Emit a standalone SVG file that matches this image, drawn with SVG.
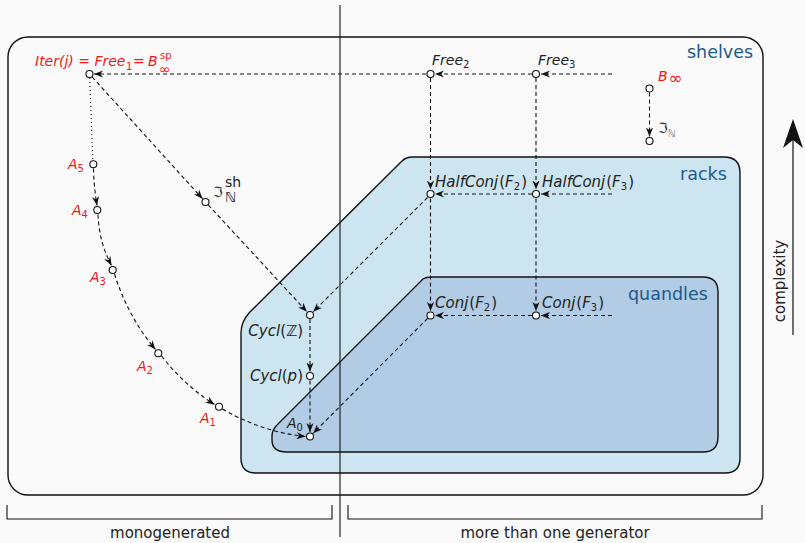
<svg xmlns="http://www.w3.org/2000/svg" width="805" height="543" viewBox="0 0 805 543">
<defs>
<style>
.m{font-family:"DejaVu Sans","Liberation Sans",sans-serif;font-style:italic;font-size:14px;fill:#222}
.m15{font-size:15px}
.u{font-style:normal}
.sub{font-style:normal;font-size:10px}
.red{fill:#f01818}
.gray{fill:#444}
.lbl{font-family:"DejaVu Sans","Liberation Sans",sans-serif;font-size:17.5px;fill:#1c5a8c}
.txt{font-family:"DejaVu Sans","Liberation Sans",sans-serif;font-size:15px;fill:#222}
.node{fill:#fff;stroke:#111;stroke-width:1.1}
.c{fill:none;stroke:#111;stroke-width:1.1;stroke-dasharray:4,3;marker-end:url(#ah)}
.dot{fill:none;stroke:#111;stroke-width:1.1;stroke-dasharray:1,3}
.box{stroke:#111;stroke-width:1.4}
</style>
<marker id="ah" viewBox="0 0 10 8" refX="10" refY="4" markerWidth="9" markerHeight="7.2" orient="auto" markerUnits="userSpaceOnUse">
<path d="M0,0 L10,4 L0,8 L3,4 Z" fill="#111"/>
</marker>
</defs>
<rect x="0" y="0" width="805" height="543" fill="#fafafa"/>

<g id="regions">
<rect id="shelves" class="box" x="8" y="37" width="755" height="458" rx="20" ry="20" fill="#fafafa"/>
<path id="racks" class="box" fill="#cde5f1" d="M413,157 L724,157 Q740,157 740,173 L740,458 Q740,473 725,473 L256,473 Q241,473 241,458 L241,333 Q241,322 249,313 L402,161 Q406,157 413,157 Z"/>
<path id="quandles" class="box" fill="#b1cce4" d="M433,277 L703,277 Q718,277 718,292 L718,437 Q718,452 703,452 L287,452 Q272,452 272,440 L272,436 Q272,430 277,425 L423,279 Q426,277 433,277 Z"/>
<text class="lbl" x="687" y="58">shelves</text>
<text class="lbl" x="680" y="180">racks</text>
<text class="lbl" x="628" y="300">quandles</text>
</g>

<line x1="340" y1="5" x2="340" y2="537" stroke="#111" stroke-width="1.1"/>

<g id="connectors">
<path class="c" d="M612,74 L541,74"/>
<path class="c" d="M532,74 L435,74"/>
<path class="c" d="M426,74 L94,74"/>
<path class="c" d="M430.5,78 L430.5,189.5"/>
<path class="c" d="M536,78 L536,189.5"/>
<path class="c" d="M612,194 L541,194"/>
<path class="c" d="M532,194 L435,194"/>
<path class="c" d="M430.5,198.5 L430.5,311"/>
<path class="c" d="M536,198.5 L536,311"/>
<path class="c" d="M612,315.5 L541,315.5"/>
<path class="c" d="M532,315.5 L435,315.5"/>
<path class="c" d="M427.5,197.5 L313.2,311.8"/>
<path class="c" d="M427.5,318.5 L313.2,433.3"/>
<path class="c" d="M310,319 L310,371.5"/>
<path class="c" d="M310,380.5 L310,432"/>
<path class="c" d="M92.2,77 L202.5,198.7"/>
<path class="c" d="M208.2,204.9 L306.9,311.7"/>
<path class="c" d="M649.5,92.5 L649.5,136.5"/>
<path class="dot" d="M89.7,78 L92.8,160"/>
<path class="c" d="M93.5,168.5 Q94,188 97,205.5"/>
<path class="c" d="M98,214.5 Q99,242 111.5,265.5"/>
<path class="c" d="M114.5,274 Q128,317 155.5,349.5"/>
<path class="c" d="M161.5,356 Q184,385 214.5,404.5"/>
<path class="c" d="M222.5,409 Q262,432 305.5,436.5"/>
</g>

<g id="n-iter">
<circle class="node" cx="89.5" cy="74" r="3.5"/>
<text class="m red" x="35" y="66">Iter(j) = Free</text>
<text class="m red sub" x="126" y="70">1</text>
<text class="m red u" x="133" y="66">=</text>
<text class="m red" x="148" y="66">B</text>
<text class="m red sub" x="160" y="58.5" font-size="11">sp</text>
<text class="m red u" x="159" y="74" font-size="16">∞</text>
</g>
<g id="n-free2">
<circle class="node" cx="430.5" cy="74" r="3.5"/>
<text class="m" x="432" y="65">Free<tspan class="sub" dy="3">2</tspan></text>
</g>
<g id="n-free3">
<circle class="node" cx="536" cy="74" r="3.5"/>
<text class="m" x="538" y="65">Free<tspan class="sub" dy="3">3</tspan></text>
</g>
<g id="n-binf">
<circle class="node" cx="649.5" cy="88.5" r="3.5"/>
<text class="m red" x="658" y="81" font-size="15">B<tspan class="u" font-size="17" dx="1" dy="3">∞</tspan></text>
</g>
<g id="n-IN">
<circle class="node" cx="649.5" cy="141" r="3.5"/>
<text class="m u gray" x="658" y="133" font-size="16">ℑ<tspan font-size="10" fill="#777" dy="4">ℕ</tspan></text>
</g>
<g id="n-INsh">
<circle class="node" cx="205.5" cy="202" r="3.5"/>
<text class="m u gray" x="213" y="197" font-size="16">ℑ</text>
<text class="m u" x="225" y="187" font-size="10.5" fill="#333">sh</text>
<text class="m u" x="225" y="201.5" font-size="9.5" fill="#777">ℕ</text>
</g>
<g id="n-A5">
<circle class="node" cx="93.3" cy="164.3" r="3.5"/>
<text class="m red" x="68" y="169">A<tspan class="sub" dy="3">5</tspan></text>
</g>
<g id="n-A4">
<circle class="node" cx="97.3" cy="210" r="3.5"/>
<text class="m red" x="72" y="215">A<tspan class="sub" dy="3">4</tspan></text>
</g>
<g id="n-A3">
<circle class="node" cx="112.7" cy="270" r="3.5"/>
<text class="m red" x="90" y="282">A<tspan class="sub" dy="3">3</tspan></text>
</g>
<g id="n-A2">
<circle class="node" cx="158.3" cy="353.3" r="3.5"/>
<text class="m red" x="137" y="371">A<tspan class="sub" dy="3">2</tspan></text>
</g>
<g id="n-A1">
<circle class="node" cx="219" cy="406.7" r="3.5"/>
<text class="m red" x="200" y="423">A<tspan class="sub" dy="3">1</tspan></text>
</g>
<g id="n-A0">
<circle class="node" cx="310" cy="436.5" r="3.5"/>
<text class="m" x="287" y="428">A<tspan class="sub" dy="3">0</tspan></text>
</g>
<g id="n-cyclZ">
<circle class="node" cx="310" cy="315" r="3.5"/>
<text class="m m15" x="303" y="336" text-anchor="end">Cycl<tspan class="u">(ℤ)</tspan></text>
</g>
<g id="n-cyclp">
<circle class="node" cx="310" cy="376" r="3.5"/>
<text class="m m15" x="303" y="381" text-anchor="end">Cycl<tspan class="u">(</tspan>p<tspan class="u">)</tspan></text>
</g>
<g id="n-hc2">
<circle class="node" cx="430.5" cy="194" r="3.5"/>
<text class="m m15" x="435" y="187">HalfConj<tspan class="u" dx="1">(</tspan>F<tspan class="sub" dy="3">2</tspan><tspan class="u" dx="1" dy="-3">)</tspan></text>
</g>
<g id="n-hc3">
<circle class="node" cx="536" cy="194" r="3.5"/>
<text class="m m15" x="542" y="187">HalfConj<tspan class="u" dx="1">(</tspan>F<tspan class="sub" dy="3">3</tspan><tspan class="u" dx="1" dy="-3">)</tspan></text>
</g>
<g id="n-c2">
<circle class="node" cx="430.5" cy="315.5" r="3.5"/>
<text class="m m15" x="435" y="308">Conj<tspan class="u" dx="1">(</tspan>F<tspan class="sub" dy="3">2</tspan><tspan class="u" dx="1" dy="-3">)</tspan></text>
</g>
<g id="n-c3">
<circle class="node" cx="536" cy="315.5" r="3.5"/>
<text class="m m15" x="542" y="308">Conj<tspan class="u" dx="1">(</tspan>F<tspan class="sub" dy="3">3</tspan><tspan class="u" dx="1" dy="-3">)</tspan></text>
</g>

<g id="brackets" fill="none" stroke="#111" stroke-width="1.1">
<path d="M7,505 L7,519 L332,519 L332,505"/>
<path d="M348,505 L348,519 L762,519 L762,505"/>
</g>
<text class="txt" x="170" y="538" text-anchor="middle">monogenerated</text>
<text class="txt" x="555" y="538" text-anchor="middle">more than one generator</text>

<g id="complexity">
<line x1="793" y1="335" x2="793" y2="140" stroke="#111" stroke-width="1.2"/>
<path d="M793,119 L803,148 L793,140 L783,148 Z" fill="#111"/>
<text class="txt" font-size="17.5" transform="translate(785,281) rotate(-90)" text-anchor="middle">complexity</text>
</g>
</svg>
